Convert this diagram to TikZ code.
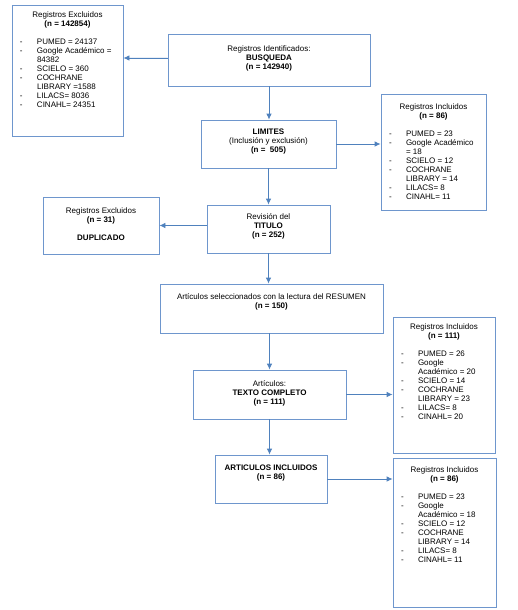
\documentclass[tikz,border=0pt]{standalone}
\usepackage{fontspec}
\setmainfont{Liberation Sans}
\usetikzlibrary{arrows.meta,calc}

\definecolor{azulcaja}{RGB}{110,150,205}
\definecolor{azulflecha}{RGB}{79,129,189}

% caja de ancho #1, alto #2, margen superior #3
\newcommand{\cajatexto}[4]{\parbox[c][#2][t]{#1}{\centering\vspace*{#3}#4}}
\newcommand{\lista}[1]{\par\vspace{9pt}\raggedright\noindent
  \begin{tabular}[t]{@{\hspace{8pt}}p{17pt}@{}l@{}}#1\end{tabular}}

\begin{document}
\begin{tikzpicture}[x=1pt, y=-1pt, >={Latex[length=6pt,width=5.5pt]}, line width=0.8pt,
  caja/.style={draw=azulcaja, inner sep=0pt, font=\fontsize{8}{9}\selectfont},
  flecha/.style={->, draw=azulflecha, fill=azulflecha}]
  \useasboundingbox (0,0) rectangle (518,610);

  % columna central
  \node[caja] (busq) at (269,60) {\cajatexto{202pt}{52pt}{11.5pt}{Registros Identificados:\\
    \textbf{BUSQUEDA}\\ \textbf{(n = 142940)}}};
  \node[caja] (lim) at (268.5,144) {\cajatexto{135pt}{48pt}{8.5pt}{\textbf{LIMITES}\\
    (Inclusión y exclusión)\\ \textbf{(n = \ 505)}}};
  \node[caja] (rev) at (268.5,229) {\cajatexto{123pt}{48pt}{8.5pt}{Revisión del\\
    \textbf{TITULO}\\ \textbf{(n = 252)}}};
  \node[caja] (res) at (271.5,308.5) {\cajatexto{223pt}{49pt}{9.5pt}{Artículos seleccionados con la lectura del RESUMEN\\
    \textbf{(n = 150)}}};
  \node[caja] (comp) at (269.5,394.5) {\cajatexto{153pt}{49pt}{10.5pt}{Artículos:\\
    \textbf{TEXTO COMPLETO}\\ \textbf{(n = 111)}}};
  \node[caja] (incl) at (271,479) {\cajatexto{112pt}{48pt}{9.5pt}{\textbf{ARTICULOS INCLUIDOS}\\
    \textbf{(n = 86)}}};

  % excluidos
  \node[caja] (excl1) at (67.5,70.5) {\cajatexto{111pt}{131pt}{6.5pt}{Registros Excluidos\\
    \textbf{(n = 142854)}
    \lista{- & PUMED = 24137\\ - & Google Académico =\\ & 84382\\ - & SCIELO = 360\\
      - & COCHRANE\\ & LIBRARY =1588\\ - & LILACS= 8036\\ - & CINAHL= 24351}}};
  \node[caja] (excl2) at (101,225.5) {\cajatexto{116pt}{57pt}{10.5pt}{Registros Excluidos\\
    \textbf{(n = 31)}\\[9pt] \textbf{DUPLICADO}}};

  % incluidos
  \node[caja] (inc1) at (433.5,152) {\cajatexto{105pt}{116pt}{9.5pt}{Registros Incluidos\\
    \textbf{(n = 86)}
    \lista{- & PUMED = 23\\ - & Google Académico\\ & = 18\\ - & SCIELO = 12\\
      - & COCHRANE\\ & LIBRARY = 14\\ - & LILACS= 8\\ - & CINAHL= 11}}};
  \node[caja] (inc2) at (444,385) {\cajatexto{102pt}{136pt}{6.5pt}{Registros Incluidos\\
    \textbf{(n = 111)}
    \lista{- & PUMED = 26\\ - & Google\\ & Académico = 20\\ - & SCIELO = 14\\
      - & COCHRANE\\ & LIBRARY = 23\\ - & LILACS= 8\\ - & CINAHL= 20}}};
  \node[caja] (inc3) at (444.5,532.5) {\cajatexto{103pt}{149pt}{8.5pt}{Registros Incluidos\\
    \textbf{(n = 86)}
    \lista{- & PUMED = 23\\ - & Google\\ & Académico = 18\\ - & SCIELO = 12\\
      - & COCHRANE\\ & LIBRARY = 14\\ - & LILACS= 8\\ - & CINAHL= 11}}};

  % flechas verticales
  \draw[flecha] (busq.south) -- (busq.south |- lim.north);
  \draw[flecha] (lim.south) -- (lim.south |- rev.north);
  \draw[flecha] (rev.south) -- (rev.south |- res.north);
  \draw[flecha] (res.south -| comp.north) -- (comp.north);
  \draw[flecha] (comp.south) -- (comp.south |- incl.north);

  % flechas laterales
  \draw[flecha] ($(busq.west)+(0,-2)$) -- ($(busq.west -| excl1.east)+(0,-2)$);
  \draw[flecha] (lim.east) -- (lim.east -| inc1.west);
  \draw[flecha] (excl2.east -| rev.west) -- (excl2.east);
  \draw[flecha] (comp.east) -- (comp.east -| inc2.west);
  \draw[flecha] (incl.east) -- (incl.east -| inc3.west);
\end{tikzpicture}
\end{document}
